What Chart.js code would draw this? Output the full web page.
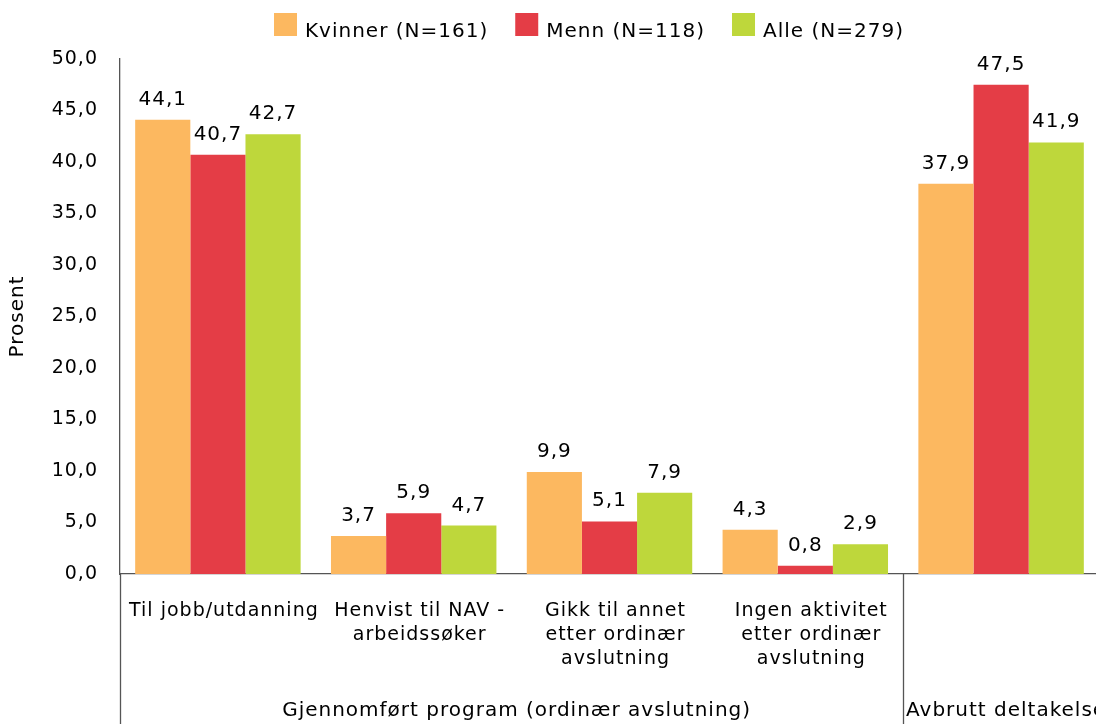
<!DOCTYPE html>
<html><head><meta charset="utf-8">
<script src="https://cdn.jsdelivr.net/npm/chart.js@4/dist/chart.umd.min.js"></script>
<style>html,body{margin:0;padding:0;overflow:hidden;background:#fff}canvas{display:block}</style>
</head><body>
<canvas id="c" width="1099" height="724" style="width:1099px;height:724px"></canvas>
<script>
// ---- data ----
const categories = [
  ["Til jobb/utdanning"],
  ["Henvist til NAV -", "arbeidssøker"],
  ["Gikk til annet", "etter ordinær", "avslutning"],
  ["Ingen aktivitet", "etter ordinær", "avslutning"],
  [""]
];
const groupLabels = ["Gjennomført program (ordinær avslutning)", "Avbrutt deltakelse"];
const groupSpans = [4, 1];
const seriesNames = ["Kvinner (N=161)", "Menn (N=118)", "Alle (N=279)"];
const kvinner = [44.1, 3.7, 9.9, 4.3, 37.9];
const menn = [40.7, 5.9, 5.1, 0.8, 47.5];
const alle = [42.7, 4.7, 7.9, 2.9, 41.9];
const yTickValues = [0, 5, 10, 15, 20, 25, 30, 35, 40, 45, 50];
const yTitle = "Prosent";

// ---- styling ----
const colors = ["#FCB860", "#E43D46", "#BED73B"];
const FONT = "'DejaVu Sans', Verdana, sans-serif";
const fmt = v => v.toFixed(1).replace('.', ',');
const AXIS = "#555555";

Chart.defaults.font.family = FONT;
Chart.defaults.font.size = 20;
Chart.defaults.color = "#000";

const spacingPlugin = {
  id: 'spacing',
  beforeUpdate(chart) { try { chart.ctx.letterSpacing = '1px'; } catch (e) {} },
  beforeDraw(chart) { try { chart.ctx.letterSpacing = '1px'; } catch (e) {} }
};

const extrasPlugin = {
  id: 'extras',
  afterDatasetsDraw(chart) {
    const ctx = chart.ctx;
    ctx.save();
    ctx.font = "20px " + FONT;
    ctx.fillStyle = "#000";
    ctx.textAlign = "center";
    ctx.textBaseline = "alphabetic";
    chart.data.datasets.forEach((ds, i) => {
      const meta = chart.getDatasetMeta(i);
      meta.data.forEach((el, j) => {
        ctx.fillText(fmt(ds.data[j]), el.x, el.y - 15);
      });
    });
    ctx.restore();
  },
  afterDraw(chart) {
    const ctx = chart.ctx;
    const area = chart.chartArea;
    const H = chart.height;
    ctx.save();
    // separators
    ctx.strokeStyle = AXIS;
    ctx.lineWidth = 1.3;
    const n = categories.length;
    const catW = (area.right - area.left) / n;
    let start = 0;
    const bounds = [area.left];
    groupSpans.forEach(s => { start += s; bounds.push(area.left + start * catW); });
    bounds.forEach(bx => {
      const x = Math.round(bx) + 0.5;
      ctx.beginPath();
      ctx.moveTo(x, area.bottom);
      ctx.lineTo(x, H);
      ctx.stroke();
    });
    // group labels
    ctx.font = "20px " + FONT;
    ctx.fillStyle = "#000";
    ctx.textAlign = "center";
    ctx.textBaseline = "middle";
    start = 0;
    groupLabels.forEach((g, i) => {
      const x0 = area.left + start * catW;
      start += groupSpans[i];
      const x1 = area.left + start * catW;
      ctx.fillText(g, (x0 + x1) / 2 + 5, 711);
    });
    // legend
    ctx.textAlign = "left";
    ctx.textBaseline = "alphabetic";
    let x = 274;
    chart.data.datasets.forEach((ds, i) => {
      ctx.fillStyle = ds.backgroundColor;
      ctx.fillRect(x, 13, 23, 23);
      ctx.fillStyle = "#000";
      ctx.fillText(ds.label, x + 31, 36.5);
      x += 31 + ctx.measureText(ds.label).width + 27;
    });
    ctx.restore();
  }
};

new Chart(document.getElementById('c'), {
  type: 'bar',
  data: {
    labels: categories,
    datasets: [
      { label: seriesNames[0], data: kvinner, backgroundColor: colors[0] },
      { label: seriesNames[1], data: menn, backgroundColor: colors[1] },
      { label: seriesNames[2], data: alle, backgroundColor: colors[2] }
    ]
  },
  options: {
    responsive: false,
    animation: false,
    devicePixelRatio: 1,
    layout: { padding: { top: 59, left: 0, right: 0, bottom: 0 } },
    datasets: { bar: { categoryPercentage: 0.845, barPercentage: 1.0, borderWidth: 0 } },
    plugins: { legend: { display: false }, tooltip: { enabled: false } },
    scales: {
      x: {
        offset: true,
        grid: { display: false, drawTicks: false },
        border: { display: true, color: AXIS, width: 1.3 },
        ticks: { padding: 25, labelOffset: 6, font: { size: 19, lineHeight: 1.26 }, maxRotation: 0, autoSkip: false },
        afterFit: s => { s.height = 150; }
      },
      y: {
        min: 0, max: 50,
        grid: { display: false, drawTicks: false },
        border: { display: true, color: AXIS, width: 1.3 },
        ticks: { padding: 22, font: { size: 19 }, callback: v => fmt(v) },
        afterBuildTicks: s => { s.ticks = yTickValues.map(v => ({ value: v })); },
        title: { display: true, text: yTitle, font: { size: 20 }, padding: { top: 6, bottom: 0 } },
        afterFit: s => { s.width = 120; }
      }
    }
  },
  plugins: [spacingPlugin, extrasPlugin]
});
</script>
</body></html>
